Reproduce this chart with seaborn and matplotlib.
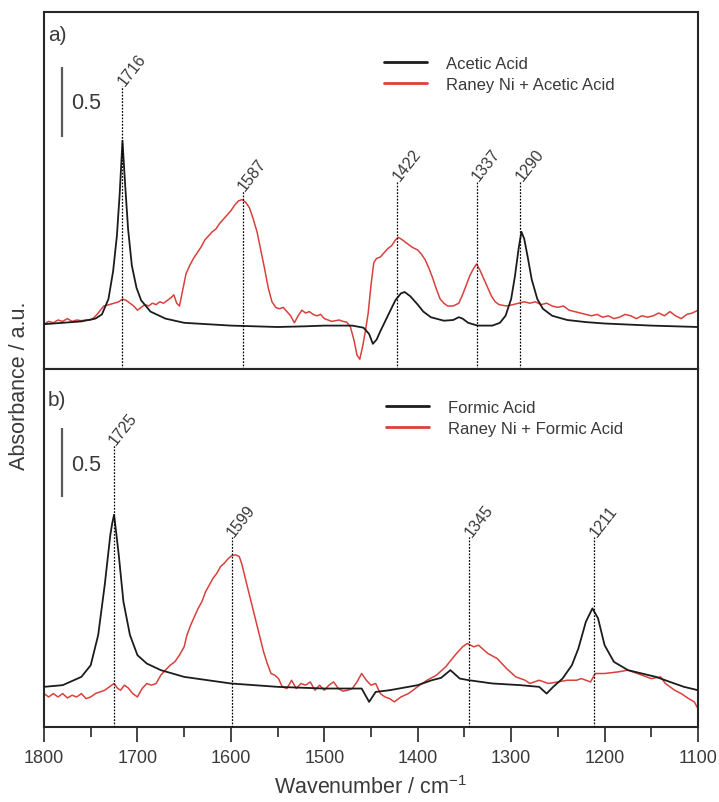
import matplotlib
matplotlib.use("Agg")
import matplotlib.pyplot as plt
from matplotlib.ticker import MultipleLocator
import seaborn as sns
import pandas as pd

# ---------------- data ----------------
# Panel a: acetic acid
wn_acetic = [1800, 1780, 1760, 1745, 1738, 1731, 1726, 1722, 1719, 1716, 1713, 1710, 1706, 1701,
             1696, 1686, 1670, 1650, 1600, 1550, 1520, 1500, 1470, 1458, 1452, 1448, 1444, 1440,
             1432, 1424, 1418, 1414, 1408, 1400, 1394, 1386, 1372, 1362, 1356, 1352, 1346, 1336,
             1320, 1312, 1306, 1300, 1296, 1292, 1289, 1286, 1282, 1278, 1272, 1266, 1256, 1240,
             1220, 1200, 1150, 1100]
abs_acetic = [0.32, 0.33, 0.34, 0.36, 0.39, 0.50, 0.70, 0.95, 1.25, 1.63, 1.30, 1.00, 0.74, 0.58,
              0.49, 0.41, 0.36, 0.33, 0.31, 0.30, 0.305, 0.31, 0.31, 0.295, 0.25, 0.18, 0.21, 0.27,
              0.38, 0.49, 0.54, 0.55, 0.52, 0.46, 0.41, 0.37, 0.345, 0.35, 0.37, 0.36, 0.33, 0.31,
              0.31, 0.33, 0.38, 0.50, 0.66, 0.86, 0.98, 0.93, 0.79, 0.64, 0.50, 0.43, 0.38, 0.35,
              0.335, 0.325, 0.31, 0.30]

wn_ni_acetic = [1800, 1795, 1790, 1785, 1780, 1775, 1770, 1765, 1760, 1755, 1750, 1746, 1742, 1736,
                1730, 1725, 1720, 1716, 1712, 1708, 1704, 1700, 1696, 1692, 1688, 1684, 1680, 1676,
                1672, 1668, 1664, 1661, 1658, 1655, 1652, 1648, 1644, 1640, 1636, 1632, 1628, 1624,
                1620, 1616, 1612, 1608, 1604, 1600, 1596, 1592, 1588, 1584, 1580, 1576, 1572, 1568,
                1564, 1560, 1556, 1552, 1548, 1544, 1540, 1536, 1532, 1528, 1524, 1520, 1516, 1512,
                1508, 1504, 1500, 1496, 1492, 1488, 1484, 1480, 1476, 1472, 1468, 1465, 1462, 1459,
                1456, 1453, 1450, 1447, 1444, 1440, 1436, 1432, 1428, 1424, 1421, 1418, 1414, 1410,
                1406, 1400, 1396, 1392, 1388, 1384, 1380, 1376, 1372, 1368, 1362, 1356, 1352, 1348,
                1344, 1340, 1337, 1333, 1329, 1325, 1321, 1317, 1313, 1305, 1298, 1292, 1286, 1280,
                1274, 1268, 1262, 1256, 1250, 1244, 1238, 1232, 1226, 1220, 1214, 1208, 1202, 1196,
                1190, 1184, 1178, 1172, 1166, 1160, 1154, 1148, 1142, 1136, 1130, 1124, 1118, 1112,
                1106, 1100]
abs_ni_acetic = [0.32, 0.34, 0.33, 0.35, 0.34, 0.36, 0.34, 0.35, 0.345, 0.35, 0.35, 0.37, 0.40, 0.45,
                 0.46, 0.47, 0.48, 0.50, 0.49, 0.47, 0.45, 0.42, 0.44, 0.46, 0.45, 0.47, 0.46, 0.48,
                 0.47, 0.49, 0.51, 0.53, 0.47, 0.45, 0.55, 0.68, 0.74, 0.79, 0.83, 0.87, 0.92, 0.95,
                 0.98, 1.00, 1.04, 1.07, 1.10, 1.13, 1.17, 1.20, 1.21, 1.19, 1.15, 1.07, 0.98, 0.85,
                 0.72, 0.58, 0.48, 0.44, 0.43, 0.44, 0.41, 0.38, 0.33, 0.38, 0.42, 0.40, 0.41, 0.39,
                 0.38, 0.39, 0.36, 0.35, 0.34, 0.345, 0.35, 0.34, 0.335, 0.30, 0.20, 0.10, 0.07, 0.16,
                 0.27, 0.40, 0.60, 0.76, 0.79, 0.80, 0.83, 0.86, 0.88, 0.92, 0.94, 0.93, 0.91, 0.89,
                 0.87, 0.85, 0.82, 0.78, 0.72, 0.65, 0.57, 0.50, 0.47, 0.45, 0.45, 0.47, 0.53, 0.60,
                 0.67, 0.72, 0.75, 0.70, 0.64, 0.58, 0.52, 0.48, 0.46, 0.45, 0.46, 0.47, 0.48, 0.47,
                 0.48, 0.46, 0.47, 0.45, 0.44, 0.45, 0.42, 0.41, 0.40, 0.39, 0.38, 0.39, 0.37, 0.38,
                 0.36, 0.37, 0.39, 0.38, 0.36, 0.38, 0.37, 0.38, 0.40, 0.38, 0.41, 0.38, 0.36, 0.39,
                 0.40, 0.42]

# Panel b: formic acid
wn_formic = [1800, 1780, 1760, 1750, 1742, 1735, 1729, 1727, 1725, 1723, 1720, 1715, 1708, 1700,
             1690, 1675, 1650, 1600, 1550, 1500, 1460, 1452, 1445, 1430, 1400, 1385, 1375, 1365,
             1355, 1345, 1320, 1290, 1270, 1262, 1255, 1245, 1235, 1228, 1220, 1213, 1207, 1200,
             1190, 1175, 1160, 1145, 1130, 1115, 1100]
abs_formic = [0.286, 0.298, 0.357, 0.44, 0.655, 1.012, 1.369, 1.45, 1.512, 1.40, 1.226, 0.893, 0.655,
              0.512, 0.452, 0.405, 0.357, 0.31, 0.286, 0.274, 0.274, 0.179, 0.25, 0.262, 0.298,
              0.333, 0.35, 0.405, 0.345, 0.333, 0.31, 0.298, 0.286, 0.238, 0.286, 0.345, 0.44,
              0.56, 0.75, 0.845, 0.774, 0.583, 0.464, 0.405, 0.381, 0.357, 0.321, 0.286, 0.262]

wn_ni_formic = [1800, 1795, 1790, 1785, 1780, 1775, 1770, 1765, 1760, 1755, 1750, 1745, 1740, 1735,
                1730, 1725, 1721, 1718, 1714, 1710, 1705, 1700, 1695, 1690, 1685, 1680, 1675, 1670,
                1665, 1660, 1655, 1650, 1647, 1643, 1639, 1635, 1631, 1627, 1623, 1619, 1615, 1611,
                1607, 1603, 1599, 1595, 1591, 1588, 1585, 1581, 1577, 1573, 1569, 1565, 1561, 1557,
                1553, 1549, 1545, 1540, 1535, 1530, 1525, 1520, 1515, 1510, 1505, 1500, 1495, 1490,
                1485, 1480, 1475, 1470, 1465, 1460, 1455, 1450, 1445, 1440, 1435, 1430, 1425, 1418,
                1410, 1405, 1398, 1390, 1380, 1370, 1360, 1352, 1347, 1340, 1335, 1325, 1315, 1305,
                1295, 1285, 1280, 1270, 1260, 1250, 1240, 1230, 1225, 1215, 1210, 1200, 1185, 1175,
                1165, 1150, 1140, 1135, 1125, 1118, 1110, 1104, 1100]
abs_ni_formic = [0.238, 0.214, 0.238, 0.214, 0.238, 0.207, 0.226, 0.214, 0.238, 0.202, 0.214, 0.238,
                 0.25, 0.262, 0.286, 0.31, 0.274, 0.262, 0.298, 0.279, 0.238, 0.214, 0.274, 0.31,
                 0.298, 0.31, 0.369, 0.405, 0.44, 0.464, 0.512, 0.571, 0.655, 0.726, 0.786, 0.845,
                 0.893, 0.964, 1.012, 1.06, 1.095, 1.143, 1.167, 1.198, 1.221, 1.226, 1.214, 1.155,
                 1.071, 0.964, 0.857, 0.75, 0.643, 0.536, 0.452, 0.381, 0.369, 0.345, 0.286, 0.274,
                 0.333, 0.274, 0.310, 0.298, 0.321, 0.262, 0.298, 0.262, 0.298, 0.321, 0.274, 0.255,
                 0.262, 0.274, 0.321, 0.381, 0.333, 0.298, 0.31, 0.238, 0.214, 0.202, 0.179, 0.214,
                 0.238, 0.262, 0.298, 0.333, 0.369, 0.429, 0.512, 0.571, 0.595, 0.571, 0.583, 0.524,
                 0.488, 0.417, 0.357, 0.333, 0.31, 0.333, 0.31, 0.321, 0.333, 0.333, 0.345, 0.321,
                 0.381, 0.381, 0.393, 0.405, 0.381, 0.345, 0.357, 0.31, 0.262, 0.238, 0.202, 0.179,
                 0.131]

# peak markers
peaks_a = [1716, 1587, 1422, 1337, 1290]
peak_tops_a = [2.02, 1.27, 1.34, 1.34, 1.34]
peaks_b = [1725, 1599, 1345, 1211]
peak_tops_b = [2.01, 1.35, 1.35, 1.35]

labels_a = ["Acetic Acid", "Raney Ni + Acetic Acid"]
labels_b = ["Formic Acid", "Raney Ni + Formic Acid"]
panel_tags = ["a)", "b)"]
scale_value = 0.5
xticks = [1800, 1700, 1600, 1500, 1400, 1300, 1200, 1100]

# ---------------- style ----------------
sns.set_style("white")
plt.rcParams["font.family"] = ["Liberation Sans", "DejaVu Sans"]
plt.rcParams["mathtext.default"] = "regular"
TXT = "#3a3a3a"
FRAME = "#262626"
BLACK = "#1c1c1c"
RED = "#d8413c"

fig = plt.figure(figsize=(7.19, 8.03), dpi=100)
L, W = 44 / 719, 654 / 719
ax_a = fig.add_axes([L, 1 - 370 / 803, W, 357 / 803])
ax_b = fig.add_axes([L, 1 - 728 / 803, W, 358 / 803])

panels = [
    (ax_a, wn_acetic, abs_acetic, wn_ni_acetic, abs_ni_acetic, labels_a, peaks_a, peak_tops_a,
     (1.66, 2.16, 1.907), 2.39, (0.52, 0.877)),
    (ax_b, wn_formic, abs_formic, wn_ni_formic, abs_ni_formic, labels_b, peaks_b, peak_tops_b,
     (1.64, 2.13, 1.87), 2.33, (0.523, 0.913)),
]

for i, (ax, wx, wy, rx, ry, labs, pk, pt, sb, tag_y, leg_pos) in enumerate(panels):
    df_k = pd.DataFrame({"wn": wx, "abs": wy})
    df_r = pd.DataFrame({"wn": rx, "abs": ry})
    sns.lineplot(data=df_r, x="wn", y="abs", ax=ax, color=RED, lw=1.1, label=labs[1],
                 legend=False, estimator=None, zorder=2)
    sns.lineplot(data=df_k, x="wn", y="abs", ax=ax, color=BLACK, lw=1.3, label=labs[0],
                 legend=False, estimator=None, zorder=3)

    ax.set_xlim(1800, 1100)
    ax.set_ylim(0, 2.55)
    ax.set_yticks([])
    ax.set_xlabel("")
    ax.set_ylabel("")
    ax.xaxis.set_major_locator(MultipleLocator(100))
    ax.xaxis.set_minor_locator(MultipleLocator(50))
    ax.tick_params(axis="x", which="major", direction="out", length=11, width=1.2,
                   color=FRAME, labelsize=13, labelcolor=TXT, pad=5, bottom=True, top=False)
    ax.tick_params(axis="x", which="minor", direction="out", length=7.5, width=1.2,
                   color=FRAME, bottom=True, top=False)
    for s in ax.spines.values():
        s.set_linewidth(1.5)
        s.set_color(FRAME)
        s.set_visible(True)

    # peak marker lines
    ax.vlines(pk, 0, pt, colors="black", linestyles=(0, (1.4, 1.2)), lw=0.9, zorder=4)
    for p, t in zip(pk, pt):
        ax.annotate(str(p), xy=(p, t), xytext=(-1, 2), textcoords="offset points",
                    rotation=52, rotation_mode="anchor", ha="left", va="center",
                    fontsize=11.5, color=TXT)

    # scale bar
    ax.vlines([1781], sb[0], sb[1], colors="#5a5a5a", lw=1.6)
    ax.text(1771, sb[2], str(scale_value), fontsize=15.5, color=TXT, ha="left", va="center")
    ax.text(1796, tag_y, panel_tags[i], fontsize=15, color=TXT, ha="left", va="center")

    handles, hl = ax.get_legend_handles_labels()
    order = [hl.index(labs[0]), hl.index(labs[1])]
    leg = ax.legend([handles[k] for k in order], [hl[k] for k in order],
                    loc="upper left", bbox_to_anchor=leg_pos, frameon=False, fontsize=12,
                    handlelength=2.6, handletextpad=1.1, labelspacing=0.35, borderpad=0,
                    borderaxespad=0)
    for t in leg.get_texts():
        t.set_color(TXT)
    for ln in leg.get_lines():
        ln.set_linewidth(2.0)

ax_a.tick_params(axis="x", labelbottom=False)
ax_b.set_xticks(xticks)

fig.text(20 / 719, 1 - 386 / 803, "Absorbance / a.u.", rotation=90, ha="center", va="center",
         fontsize=15.5, color=TXT)
fig.text(371 / 719, 1 - 788 / 803, "Wavenumber / cm$^{-1}$", ha="center", va="center",
         fontsize=15.5, color=TXT)

fig.savefig("out.png", dpi=100)
